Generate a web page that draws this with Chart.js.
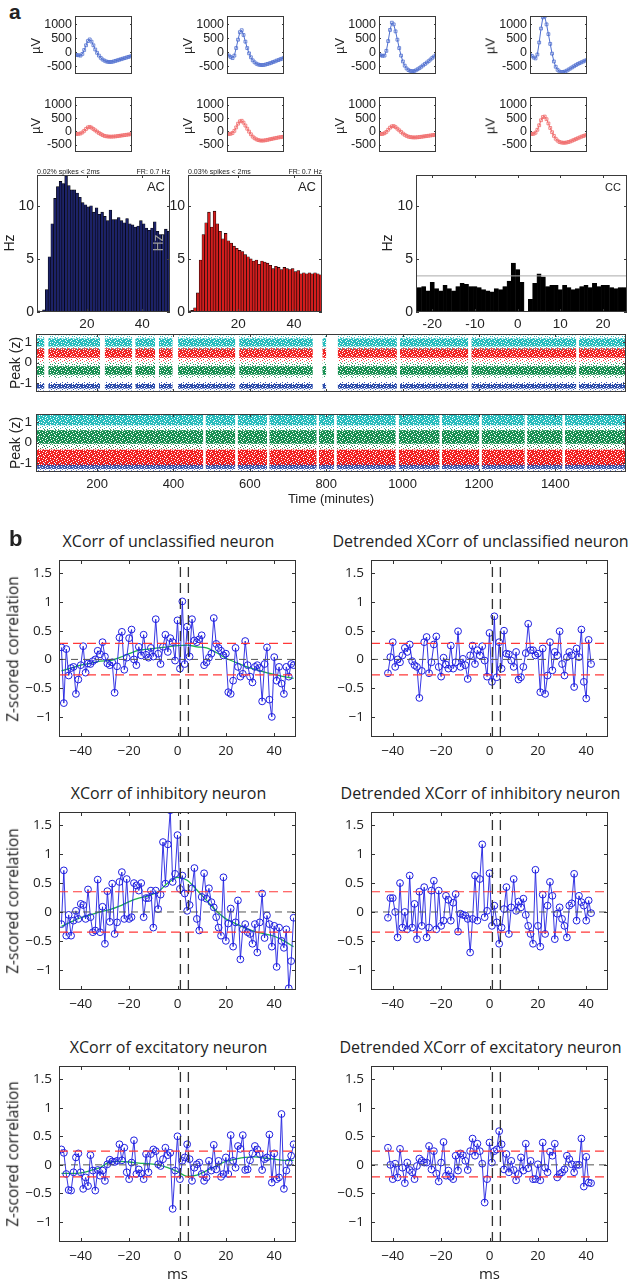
<!DOCTYPE html>
<html><head><meta charset="utf-8">
<script src="https://cdn.jsdelivr.net/npm/chart.js@4.4.1/dist/chart.umd.min.js"></script>
<style>
html,body{margin:0;padding:0;background:#fff}
body{width:628px;height:1280px;position:relative;overflow:hidden}
canvas{position:absolute}
</style></head><body>
<script>
// ---------------- DATA ----------------
// Panel a: mean waveforms (32 samples), µV
const wfSamples = Array.from({length:32},(_,i)=>i+1);
const wfTicks = [1000,500,0,-500];
const wfBlue1 = [-90,-100,-110,-120,-60,80,250,400,460,380,250,100,-20,-120,-200,-260,-300,-330,-345,-350,-345,-330,-310,-290,-270,-250,-230,-210,-190,-170,-150,-130];
const wfBlue2 = [-100,-120,-170,-210,-120,150,450,720,790,620,380,150,-40,-180,-290,-360,-410,-440,-455,-460,-455,-440,-420,-400,-380,-350,-330,-300,-280,-250,-230,-200];
const wfBlue3 = [-100,-110,-130,-120,50,400,800,1060,1000,750,450,150,-120,-330,-480,-580,-640,-670,-680,-675,-650,-610,-570,-520,-470,-420,-370,-320,-260,-200,-150,-100];
const wfBlue4 = [-100,-130,-190,-220,-80,350,850,1250,1280,1000,650,300,-50,-330,-520,-630,-690,-710,-705,-690,-660,-620,-580,-540,-500,-460,-420,-390,-360,-330,-300,-280];
const wfRed1 = [-100,-100,-90,-80,-40,20,90,150,170,140,90,40,-10,-60,-100,-140,-170,-185,-195,-200,-200,-195,-190,-180,-170,-160,-150,-140,-130,-120,-110,-100];
const wfRed2 = [-100,-100,-90,-60,20,150,290,380,400,330,220,100,-10,-110,-200,-260,-300,-330,-345,-350,-345,-335,-320,-305,-290,-275,-260,-245,-230,-220,-210,-200];
const wfRed3 = [-100,-100,-95,-70,-20,60,140,190,200,160,100,40,-20,-80,-130,-170,-200,-215,-225,-230,-228,-222,-215,-205,-195,-185,-175,-165,-155,-145,-135,-130];
const wfRed4 = [-100,-100,-90,-50,60,230,420,540,560,460,300,130,-30,-170,-280,-350,-400,-420,-430,-430,-420,-400,-380,-350,-320,-290,-260,-230,-200,-175,-150,-130];

// Autocorrelograms (ms bins) and cross-correlogram, Hz
const acBins = Array.from({length:48},(_,i)=>i+2.5);
const acBlue = [0.1,0.05,0.2,2.1,5.2,8.3,10.7,11.8,12.3,12.1,12.8,11.9,11.5,11.5,11.2,10.8,10.3,10.1,9.9,10.0,9.4,9.8,9.2,9.4,9.0,8.6,9.6,8.7,8.7,8.9,8.6,8.4,8.8,8.3,8.2,8.0,8.1,8.6,8.3,7.9,7.7,7.9,8.5,7.6,7.3,7.3,7.8,7.6];
const acRed = [0.1,0.15,0.4,1.8,4.9,7.3,8.4,9.4,8.0,9.5,8.3,7.6,6.9,7.4,6.7,6.5,6.2,6.0,5.8,5.7,5.4,5.2,5.0,4.8,4.9,4.5,4.8,4.7,4.6,4.4,4.1,4.3,4.2,4.0,4.2,4.1,4.0,4.1,3.8,3.9,3.6,3.7,3.6,3.7,3.6,3.7,3.6,3.5];
const ccBins = Array.from({length:49},(_,i)=>i-23);
const ccVals = [2.3,2.4,2.0,2.8,2.2,2.0,2.5,2.2,2.0,2.4,2.7,2.6,2.4,2.4,2.3,2.1,2.0,1.9,2.2,2.1,2.4,2.9,4.6,4.0,2.8,0.0,1.2,2.7,3.6,3.3,2.4,2.5,2.5,2.1,2.5,2.3,2.1,2.2,2.4,2.5,2.3,2.7,2.4,2.5,2.5,2.3,2.2,2.3,2.3];
const ccThreshold = 3.4;
const histTicksY = [0,5,10];

// Peak (z) over time: band limits [outerLo, coreLo, coreHi, outerHi]
const timeTicks = [200,400,600,800,1000,1200,1400];
const timeStart = 40, timeEnd = 1585;
const r1Gaps = [[62,72],[208,220],[292,300],[352,362],[398,412],[562,572],[765,790],[800,830],[985,993],[1172,1180],[1455,1462]];
const r1Cyan  = [0.62, 0.80, 1.20, 1.35];
const r1Red   = [0.05, 0.24, 0.72, 0.85];
const r1Green = [-0.75, -0.60, -0.18, 0.02];
const r1Blue  = [-1.38, -1.28, -1.06, -0.96];
const r2Gaps = [[478,484],[562,568],[645,651],[775,781],[821,827],[982,990],[1097,1103],[1201,1207],[1320,1326],[1419,1425]];
const r2Cyan  = [0.68, 0.86, 1.45, 1.45];
const r2Green = [-0.30, -0.05, 0.62, 0.82];
const r2Red   = [-1.32, -1.15, -0.35, -0.10];
const r2Blue  = [-1.40, -1.30, -1.10, -1.00];
const peakTicks = [-1,0,1];

// Panel b: z-scored cross-correlations
const lagsFull = Array.from({length:97},(_,i)=>i-48);
const lagsDet = Array.from({length:85},(_,i)=>i-42);
const trendLags = [-48,-44,-40,-36,-32,-28,-24,-20,-16,-12,-8,-4,0,4,8,12,16,20,24,28,32,36,40,44,48];
const xcUnc = [0.21,-0.76,0.18,-0.28,-0.15,-0.13,-0.6,-0.35,-0.1,0.23,-0.23,-0.07,-0.08,-0.03,0.0,0.15,0.09,0.3,0.05,-0.07,-0.1,-0.05,-0.58,-0.12,0.38,0.48,-0.18,0.03,0.37,0.52,0.0,-0.1,0.22,0.07,0.43,0.08,0.03,0.2,0.05,0.7,0.1,-0.08,0.22,0.43,0.13,0.37,0.3,-0.02,
  0.68,-0.16,1.01,-0.08,0.57,0.05,0.7,0.33,0.3,0.35,0.42,-0.1,-0.05,0.03,0.1,0.72,0.27,0.2,0.15,0.07,0.1,-0.57,-0.6,-0.37,0.2,-0.13,-0.3,-0.25,0.32,-0.1,-0.3,-0.4,-0.13,-0.1,-0.15,-0.73,-0.08,0.21,-0.7,-1.0,0.04,-0.37,-0.13,-0.42,-0.6,-0.13,-0.3,-0.08,-0.1];
const trendUnc = [-0.2,-0.15,-0.1,-0.07,-0.03,-0.02,0.03,0.1,0.16,0.18,0.2,0.22,0.24,0.25,0.22,0.2,0.12,0.02,-0.05,-0.12,-0.17,-0.22,-0.26,-0.3,-0.33];
const detUnc = [-0.24,0.04,0.3,-0.13,0.0,-0.05,0.07,0.2,0.13,0.26,-0.03,-0.1,-0.13,-0.67,-0.2,0.3,0.39,-0.24,-0.05,0.26,0.4,-0.13,-0.3,0.03,-0.09,-0.16,0.24,-0.16,-0.05,0.49,-0.13,0.01,-0.1,-0.34,0.07,0.24,-0.08,0.16,0.07,0.23,-0.02,-0.3,
  0.46,-0.39,0.75,-0.31,0.3,-0.16,0.5,0.1,0.09,-0.02,-0.13,0.13,-0.35,-0.31,-0.13,0.11,0.62,0.16,0.16,0.07,0.1,-0.57,0.19,-0.6,-0.28,0.3,-0.19,0.13,0.07,0.49,-0.08,-0.28,0.04,0.13,0.07,-0.48,0.19,0.04,0.52,-0.39,-0.68,0.34,-0.08];
const sigUnc = [0.28,-0.27];
const xcInh = [-0.21,0.72,-0.41,-0.05,-0.41,-0.15,0.02,-0.12,0.14,0.12,-0.12,0.39,-0.09,-0.35,-0.32,0.56,-0.35,0.09,-0.55,0.36,-0.17,0.49,-0.38,-0.18,0.52,0.69,-0.12,0.57,-0.12,-0.09,0.5,0.46,0.37,0.5,-0.09,0.24,0.24,0.37,-0.27,0.37,0.05,0.3,1.21,0.49,1.17,1.76,0.52,0.66,
  1.33,0.4,0.63,0.32,0.02,0.12,0.41,0.76,-0.12,-0.32,0.26,0.67,0.23,0.41,0.17,0.08,-0.09,-0.27,-0.41,0.6,-0.5,-0.2,0.06,-0.6,-0.18,0.2,-0.82,-0.3,-0.21,-0.35,-0.38,-0.55,-0.21,-0.7,-0.18,0.32,-0.45,-0.06,-0.21,-0.6,-0.24,-0.95,-0.27,-0.5,-0.62,-0.3,-1.32,-0.85,-0.1];
const trendInh = [-0.25,-0.17,-0.1,-0.05,0.0,0.04,0.1,0.18,0.24,0.28,0.35,0.5,0.6,0.55,0.38,0.2,0.02,-0.12,-0.2,-0.28,-0.34,-0.38,-0.42,-0.5,-0.6];
const detInh = [-0.1,0.24,0.24,0.0,-0.44,0.5,-0.27,0.0,-0.3,0.63,-0.27,0.14,-0.47,0.35,-0.24,0.43,-0.44,-0.27,0.37,0.54,-0.3,0.37,-0.24,-0.15,0.28,0.21,-0.15,0.16,0.31,-0.34,-0.03,-0.05,-0.06,-0.12,-0.7,-0.12,0.63,-0.15,0.57,1.17,-0.09,0.02,
  0.67,-0.24,0.11,-0.18,-0.55,-0.27,0.05,0.43,-0.38,0.08,0.57,0.02,0.18,0.08,0.23,-0.05,-0.24,-0.38,-0.55,0.73,-0.24,-0.6,0.3,-0.38,0.11,0.52,0.28,-0.47,-0.03,0.08,-0.12,-0.24,-0.44,0.11,0.15,0.66,-0.15,0.28,0.17,0.11,-0.15,0.2,-0.02];
const sigInh = [0.35,-0.35];
const xcExc = [0.27,0.21,-0.16,-0.44,-0.45,-0.13,0.13,0.2,-0.13,-0.42,-0.22,-0.37,0.17,-0.1,-0.45,-0.09,-0.19,-0.1,-0.28,0.01,0.09,0.06,0.05,0.07,0.36,0.08,0.3,-0.13,-0.25,0.04,0.43,-0.16,-0.08,-0.15,-0.25,0.19,-0.13,0.19,0.27,0.24,0.01,-0.02,0.1,0.3,0.17,0.21,-0.77,-0.1,
  0.5,-0.25,0.07,0.13,0.36,0.1,-0.28,-0.05,0.01,0.04,-0.16,-0.28,-0.22,0.07,-0.1,0.35,-0.08,0.07,-0.21,-0.16,0.13,-0.16,0.52,0.07,-0.05,0.33,0.28,0.52,-0.09,-0.08,0.08,0.2,0.33,0.27,0.19,-0.09,0.1,0.13,0.53,-0.31,0.2,-0.25,-0.22,0.89,-0.42,-0.1,0.04,0.16,0.36];
const trendExc = [-0.15,-0.15,-0.14,-0.1,-0.05,0.05,0.06,0.05,0.03,0.02,0.0,-0.05,-0.12,-0.2,-0.18,-0.1,-0.02,0.06,0.1,0.13,0.14,0.12,0.1,0.08,0.08];
const detExc = [0.3,0.0,-0.25,0.02,-0.22,0.28,-0.05,-0.32,0.04,-0.09,-0.13,-0.25,-0.02,0.11,0.07,0.04,0.04,0.33,-0.08,0.24,-0.15,-0.29,0.04,0.4,-0.19,-0.1,-0.21,-0.25,0.16,-0.1,0.2,0.17,0.07,-0.09,0.24,0.46,0.16,0.37,0.24,0.02,-0.66,-0.25,
  0.39,0.04,0.24,0.27,0.59,0.36,-0.08,0.19,-0.13,0.07,-0.09,-0.27,-0.16,0.13,-0.1,0.37,-0.06,0.07,-0.25,-0.25,0.01,-0.27,0.39,-0.05,-0.13,0.23,0.16,0.37,-0.22,-0.16,-0.13,-0.08,0.16,0.1,0.01,-0.13,0.0,0.0,0.46,-0.38,0.14,-0.31,-0.32];
const sigExc = [0.24,-0.21];
const eventLags = [1.2, 4.5];
const xcTicksX = [-40,-20,0,20,40];
const xcTicksY = [-1,-0.5,0,0.5,1,1.5];

// ---------------- HELPERS ----------------
Chart.defaults.font.family = "'Liberation Sans', Arial, sans-serif";
Chart.defaults.color = '#222';
Chart.defaults.plugins.legend.display = false;
Chart.defaults.plugins.tooltip.enabled = false;

Chart.register({
  id:'mbox',
  afterDatasetsDraw(chart, args, o){
    if(!o || o.off) return;
    const ctx = chart.ctx, a = chart.chartArea;
    const xs = chart.scales.x, ys = chart.scales.y;
    const tl = o.tick == null ? 3 : o.tick;
    ctx.save();
    ctx.strokeStyle = o.color || '#3a3a3a';
    ctx.lineWidth = 1;
    ctx.beginPath();
    if(o.xt !== false) xs.ticks.forEach(t=>{const p=Math.round(xs.getPixelForValue(t.value))+0.5; ctx.moveTo(p,a.bottom); ctx.lineTo(p,a.bottom-tl); ctx.moveTo(p,a.top); ctx.lineTo(p,a.top+tl);});
    if(o.yt !== false) ys.ticks.forEach(t=>{const p=Math.round(ys.getPixelForValue(t.value))+0.5; ctx.moveTo(a.left,p); ctx.lineTo(a.left+tl,p); ctx.moveTo(a.right,p); ctx.lineTo(a.right-tl,p);});
    ctx.stroke();
    ctx.strokeRect(Math.round(a.left)+0.5, Math.round(a.top)+0.5, Math.round(a.right-a.left)-1, Math.round(a.bottom-a.top)-1);
    ctx.restore();
  }
});

function mk(box, cfg, o){
  const L=o.L, B=o.B, T=o.T??4, R=o.R??8;
  const w=box[2]-box[0], h=box[3]-box[1];
  const W=L+w+R, H=T+h+B;
  const c=document.createElement('canvas');
  c.width=W; c.height=H;
  c.style.cssText=`left:${box[0]-L}px;top:${box[1]-T}px;width:${W}px;height:${H}px`;
  document.body.appendChild(c);
  Object.assign(cfg.options,{responsive:false,animation:false,devicePixelRatio:1,layout:{autoPadding:false,padding:{top:T,right:R,left:0,bottom:0}}});
  cfg.options.scales.x.afterFit = s=>{s.height=B; s.paddingLeft=0; s.paddingRight=0; s.paddingTop=0; s.paddingBottom=0;};
  cfg.options.scales.y.afterFit = s=>{s.width=L; s.paddingTop=0; s.paddingBottom=0; s.paddingLeft=0; s.paddingRight=0;};
  return new Chart(c,cfg);
}
function setTicks(vals){ return s=>{ s.ticks = vals.map(v=>({value:v})); }; }
function txt(s,x,y,o={}){
  const d=document.createElement('div'); d.textContent=s;
  const ax=o.ax??-50;
  d.style.cssText=`position:absolute;left:${x}px;top:${y}px;font:${o.font||"13px 'Liberation Sans',Arial,sans-serif"};color:${o.color||'#222'};white-space:nowrap;line-height:1;transform:translate(${ax}%,-50%)${o.rot?' rotate(-90deg)':''}`;
  document.body.appendChild(d);
}
const hy = v => v<0 ? '-'+Math.abs(v) : String(v);
const mn = v => v<0 ? '\u2212'+Math.abs(v) : String(v);
const plain = v => String(v);
const noGrid = {display:false, drawTicks:false};

// speckle textures to mimic the dense scatter of spike peaks (style only)
const MASK_CORE = ["11101111101","10111110111","11111011110","01110111111","11111101011","11011111110","10111101111"];
const MASK_HALO = ["10000100000","00010000010","01000001000","00000100001","10010000000","00000010100","00100000001"];
function speckle(hex, mask, alpha){
  const c=document.createElement('canvas'); c.width=mask[0].length; c.height=mask.length;
  const g=c.getContext('2d'); g.fillStyle=hex; g.globalAlpha=alpha;
  mask.forEach((row,y)=>[...row].forEach((ch,x)=>{ if(ch==='1') g.fillRect(x,y,1,1); }));
  return g.createPattern(c,'repeat');
}

// ---------------- PANEL a ----------------
txt('a', 9, 11, {font:"bold 21px 'Liberation Sans',Arial,sans-serif", ax:0});
const wfCols = [[75,132],[227,284],[379,436],[530,587]];
const wfRows = [[16,74],[97,152]];
const wfSets = [[wfBlue1,wfBlue2,wfBlue3,wfBlue4],[wfRed1,wfRed2,wfRed3,wfRed4]];
const wfColors = ['#4f6fcf','#f06a6a'];
wfRows.forEach((r,ri)=>wfCols.forEach((c,ci)=>{
  const col = wfColors[ri];
  mk([c[0],r[0],c[1],r[1]], {type:'line', data:{datasets:[{data:wfSamples.map((x,i)=>({x,y:wfSets[ri][ci][i]})), borderColor:col, borderWidth:1, pointStyle:'rect', pointRadius:2, pointBorderWidth:0.8, pointBorderColor:col, pointBackgroundColor:'rgba(0,0,0,0)'}]},
    options:{plugins:{mbox:{xt:false, tick:2}}, scales:{
      x:{type:'linear', min:1, max:32, grid:noGrid, border:{display:false}, ticks:{display:false}},
      y:{min:-780, max:1300, grid:noGrid, border:{display:false}, afterBuildTicks:setTicks(wfTicks), ticks:{autoSkip:false, font:{size:12.5}, padding:3, callback:hy}}
    }}}, {L:45, B:2, T:3, R:4});
  txt('\u00b5V', c[0]-40, (r[0]+r[1])/2+1, {rot:true, font:"13px 'Liberation Sans',Arial,sans-serif"});
}));

function hist(box, bins, vals, color, xmin, xmax, xt, extra){
  const ds=[{type:'bar', data:bins.map((x,i)=>({x,y:vals[i]})), backgroundColor:color, borderColor:'#000', borderWidth:0.6, barPercentage:1, categoryPercentage:1, order:2}];
  if(extra) ds.push(extra);
  mk(box, {type:'bar', data:{datasets:ds}, options:{plugins:{mbox:{tick:3}}, scales:{
    x:{type:'linear', offset:false, min:xmin, max:xmax, grid:noGrid, border:{display:false}, afterBuildTicks:setTicks(xt), ticks:{autoSkip:false, font:{size:13.5}, padding:4, callback:hy}},
    y:{min:0, max:12.9, grid:noGrid, border:{display:false}, afterBuildTicks:setTicks(histTicksY), ticks:{autoSkip:false, font:{size:14}, padding:3}}
  }}}, {L:24, B:20, T:3, R:(box[2]>620?1:6)});
}
hist([37,175,170,312], acBins, acBlue, '#1c2268', 2, 50, [20,40]);
hist([188,175,322,312], acBins, acRed, '#d41d1d', 2, 50, [20,40]);
hist([416,175,627,312], ccBins, ccVals, '#000', -23.8, 25.6, [-20,-10,0,10,20],
  {type:'line', data:[{x:-23.8,y:ccThreshold},{x:25.6,y:ccThreshold}], borderColor:'#aaa', borderWidth:1, pointRadius:0, order:1});
const smallF = "7px 'Liberation Sans',Arial,sans-serif";
txt('0.02% spikes < 2ms', 37, 171, {font:smallF, ax:0});
txt('FR: 0.7 Hz', 170, 171, {font:smallF, ax:-100});
txt('0.03% spikes < 2ms', 188, 171, {font:smallF, ax:0});
txt('FR: 0.7 Hz', 322, 171, {font:smallF, ax:-100});
txt('AC', 165, 186, {font:"13px 'Liberation Sans',Arial,sans-serif", ax:-100});
txt('AC', 316, 186, {font:"13px 'Liberation Sans',Arial,sans-serif", ax:-100});
txt('CC', 621, 187, {font:"11px 'Liberation Sans',Arial,sans-serif", ax:-100});
txt('Hz', 9, 243, {rot:true, font:"14px 'Liberation Sans',Arial,sans-serif"});
txt('Hz', 158, 243, {rot:true, font:"14px 'Liberation Sans',Arial,sans-serif", color:'#9a9a9a'});
txt('Hz', 387, 243, {rot:true, font:"14px 'Liberation Sans',Arial,sans-serif"});

function bandData(gaps, hi){
  const pts=[]; let s=timeStart;
  gaps.forEach(([a,b])=>{ pts.push({x:s,y:hi},{x:a,y:hi},{x:(a+b)/2,y:null}); s=b; });
  pts.push({x:s,y:hi},{x:timeEnd,y:hi});
  return pts;
}
function bands(gaps, q, color, haloA, coreA){
  return [
    {data:bandData(gaps,q[3]), fill:{value:q[0]}, backgroundColor:speckle(color,MASK_HALO,haloA)},
    {data:bandData(gaps,q[2]), fill:{value:q[1]}, backgroundColor:speckle(color,MASK_CORE,coreA)}
  ].map(d=>Object.assign(d,{borderWidth:0, pointRadius:0, pointHoverRadius:0, spanGaps:false}));
}
function raster(box, sets, showX){
  mk(box, {type:'line', data:{datasets:sets}, options:{plugins:{mbox:{tick:3}}, scales:{
    x:{type:'linear', min:timeStart, max:timeEnd, grid:noGrid, border:{display:false}, afterBuildTicks:setTicks(timeTicks), ticks:{display:showX, autoSkip:false, font:{size:13}, padding:5, maxRotation:0, callback:plain}},
    y:{min:-1.45, max:1.42, grid:noGrid, border:{display:false}, afterBuildTicks:setTicks(peakTicks), ticks:{autoSkip:false, font:{size:13.5}, padding:4, callback:hy}}
  }}}, {L:36, B:showX?20:2, T:3, R:2});
}
const CY='#1fbaba', RD='#f21c1c', GR='#108c4c', BL='#2446a8';
raster([36,334,626,392], [].concat(
  bands(r1Gaps,r1Cyan,CY,0.9,0.95), bands(r1Gaps,r1Red,RD,0.9,0.95),
  bands(r1Gaps,r1Green,GR,0.9,0.95), bands(r1Gaps,r1Blue,BL,0.9,0.95)), false);
raster([36,414,626,472], [].concat(
  bands(r2Gaps,r2Blue,BL,0.7,0.8), bands(r2Gaps,r2Cyan,CY,0.9,0.95),
  bands(r2Gaps,r2Green,GR,0.9,0.95), bands(r2Gaps,r2Red,RD,0.9,0.97)), true);
txt('Peak (z)', 15, 363, {rot:true, font:"14px 'Liberation Sans',Arial,sans-serif"});
txt('Peak (z)', 15, 443, {rot:true, font:"14px 'Liberation Sans',Arial,sans-serif"});
txt('Time (minutes)', 331, 498, {font:"13px 'Liberation Sans',Arial,sans-serif"});

// ---------------- PANEL b ----------------
const BF = "'Open Sans', 'Liberation Sans', sans-serif";
txt('b', 9, 539, {font:"bold 22px 'Liberation Sans',Arial,sans-serif", ax:0});
function xcorr(box, lags, vals, tLags, tVals, sig, title, showY, showMs){
  const xmin=-49, xmax=49, ymin=-1.35, ymax=1.73;
  const ds=[
    {data:[{x:xmin,y:0},{x:xmax,y:0}], borderColor:'#555', borderWidth:1, borderDash:[7,5]},
    {data:[{x:xmin,y:sig[0]},{x:xmax,y:sig[0]}], borderColor:'#ff3838', borderWidth:1.2, borderDash:[9,5]},
    {data:[{x:xmin,y:sig[1]},{x:xmax,y:sig[1]}], borderColor:'#ff3838', borderWidth:1.2, borderDash:[9,5]},
    ...eventLags.map(l=>({data:[{x:l,y:ymin},{x:l,y:ymax}], borderColor:'#333', borderWidth:1.3, borderDash:[10,6]})),
    {data:lags.map((x,i)=>({x,y:vals[i]})), borderColor:'#1f1fe0', borderWidth:0.9, pointRadius:3.4, pointBorderWidth:1, pointBorderColor:'#1f1fe0', pointBackgroundColor:'rgba(0,0,0,0)'}
  ];
  if(tLags) ds.push({data:tLags.map((x,i)=>({x,y:tVals[i]})), borderColor:'#1db24d', borderWidth:1.3, cubicInterpolationMode:'monotone'});
  ds.forEach(d=>{ d.showLine=true; if(d.pointRadius==null) d.pointRadius=0; });
  mk(box, {type:'scatter', data:{datasets:ds}, options:{plugins:{mbox:{tick:4, color:'#333'}}, scales:{
    x:{type:'linear', min:xmin, max:xmax, grid:noGrid, border:{display:false}, afterBuildTicks:setTicks(xcTicksX), ticks:{autoSkip:false, font:{family:BF,size:13.5}, padding:6, callback:mn, maxRotation:0}},
    y:{min:ymin, max:ymax, grid:noGrid, border:{display:false}, afterBuildTicks:setTicks(xcTicksY), ticks:{autoSkip:false, font:{family:BF,size:13.5}, padding:7, callback:mn}}
  }}}, {L:46, B:22, T:4, R:10});
  const cx=(box[0]+box[2])/2;
  txt(title, cx-9, box[1]-19, {font:`16px ${BF}`});
  if(showY) txt('Z-scored correlation', 13, (box[1]+box[3])/2, {rot:true, font:`15.5px ${BF}`});
  if(showMs) txt('ms', cx, box[3]+31, {font:`15px ${BF}`});
}
const LX=[59,296], RX=[371,608];
const rowsY=[[560,737],[812,990],[1066,1242]];
xcorr([LX[0],rowsY[0][0],LX[1],rowsY[0][1]], lagsFull, xcUnc, trendLags, trendUnc, sigUnc, 'XCorr of unclassified neuron', true, false);
xcorr([RX[0],rowsY[0][0],RX[1],rowsY[0][1]], lagsDet, detUnc, null, null, sigUnc, 'Detrended XCorr of unclassified neuron', false, false);
xcorr([LX[0],rowsY[1][0],LX[1],rowsY[1][1]], lagsFull, xcInh, trendLags, trendInh, sigInh, 'XCorr of inhibitory neuron', true, false);
xcorr([RX[0],rowsY[1][0],RX[1],rowsY[1][1]], lagsDet, detInh, null, null, sigInh, 'Detrended XCorr of inhibitory neuron', false, false);
xcorr([LX[0],rowsY[2][0],LX[1],rowsY[2][1]], lagsFull, xcExc, trendLags, trendExc, sigExc, 'XCorr of excitatory neuron', true, true);
xcorr([RX[0],rowsY[2][0],RX[1],rowsY[2][1]], lagsDet, detExc, null, null, sigExc, 'Detrended XCorr of excitatory neuron', false, true);
</script>
</body></html>
